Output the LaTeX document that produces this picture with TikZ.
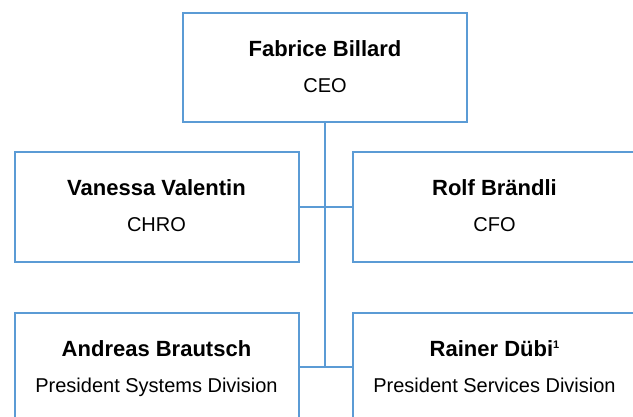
\documentclass[tikz,border=0pt]{standalone}
\usepackage{fontspec}
\setmainfont{Liberation Sans}
\definecolor{orgblue}{HTML}{5B9BD5}
\newcommand{\pname}[1]{{\fontsize{22}{36}\selectfont\bfseries\rule{0pt}{20pt}#1}}
\newcommand{\prole}[1]{\rule[-6pt]{0pt}{6pt}#1}
\begin{document}
\begin{tikzpicture}[x=1pt,y=1pt,
  orgbox/.style={draw=orgblue,line width=2pt,minimum width=284pt,minimum height=109pt,
    inner sep=0pt,align=center,font=\fontsize{20}{36}\selectfont},
  link/.style={draw=orgblue,line width=2pt}]
\useasboundingbox (0,0) rectangle (633,416);
\clip (0,0) rectangle (633,416);
\fill[white] (0,0) rectangle (633,416);
\node[orgbox] (ceo) at (325,348.5) {\pname{Fabrice Billard}\\\prole{CEO}};
\node[orgbox] (chro) at (156.5,209) {\pname{Vanessa Valentin}\\\prole{CHRO}};
\node[orgbox] (cfo) at (494.5,209) {\pname{Rolf Brändli}\\\prole{CFO}};
\node[orgbox] (sys) at (156.5,49) {\pname{Andreas Brautsch}\\\prole{President Systems Division}};
\node[orgbox] (srv) at (494.5,49) {\pname{Rainer Dübi\smash{\raisebox{8pt}{\fontsize{11}{11}\selectfont 1}}}\\\prole{President Services Division}};
\coordinate (j) at (ceo.south |- sys.east);
\draw[link] (chro.east) -- (cfo.west);
\draw[link] (sys.east) -- (srv.west);
\draw[link] (ceo.south) -- (j);
\end{tikzpicture}
\end{document}
